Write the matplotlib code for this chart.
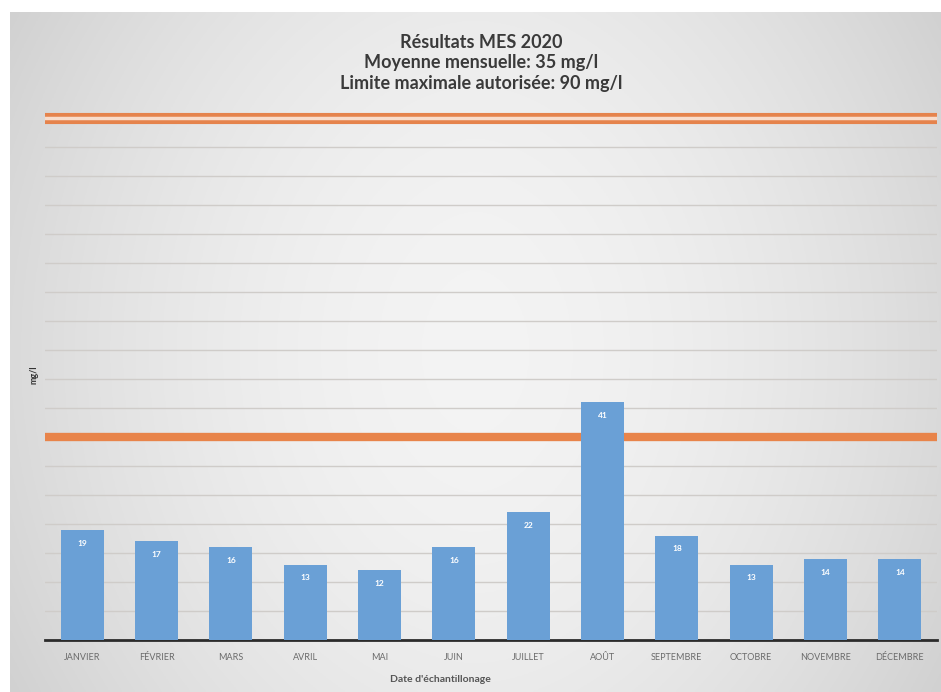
import numpy as np
import matplotlib
matplotlib.use("Agg")
import matplotlib.pyplot as plt

plt.rcParams['font.family'] = ['Lato', 'DejaVu Sans']

months = ['JANVIER', 'FÉVRIER', 'MARS', 'AVRIL', 'MAI', 'JUIN', 'JUILLET',
          'AOÛT', 'SEPTEMBRE', 'OCTOBRE', 'NOVEMBRE', 'DÉCEMBRE']
mes = [19, 17, 16, 13, 12, 16, 22, 41, 18, 13, 14, 14]
moyenne = 35
limite = 90

title_lines = ["Résultats MES 2020",
               "Moyenne mensuelle: 35 mg/l",
               "Limite maximale autorisée: 90 mg/l"]

W, H = 941, 692
fig = plt.figure(figsize=(W / 100, H / 100), dpi=100)
fig.patch.set_facecolor('white')

# grey gradient background of the chart panel (lighter in the middle)
bg = fig.add_axes([10 / W, 0, 1 - 10 / W, 1 - 12 / H], zorder=-10)
xx = np.linspace(-1, 1, 400)
yy = np.linspace(-1, 1, 300)
X, Y = np.meshgrid(xx, yy)
shade = 0.955 - 0.10 * np.abs(X) ** 1.8 - 0.035 * np.abs(Y) ** 2
bg.imshow(np.dstack([shade, shade, shade]), aspect='auto', extent=[0, 1, 0, 1])
bg.set_axis_off()

ax = fig.add_axes([45 / W, 52 / H, (937 - 45) / W, (640 - 106) / H])
ax.patch.set_alpha(0)

x = np.arange(len(months))
ax.bar(x, mes, width=0.58, color='#6aa0d6', zorder=3)
for xi, v in zip(x, mes):
    ax.text(xi, v - 1.7, str(v), ha='center', va='top', color='white',
            fontsize=6, fontweight='bold', zorder=4)

ax.axhline(moyenne, color='#e8844a', lw=6, zorder=2)
ax.axhline(limite, color='#e5834c', lw=8, zorder=2, xmin=-0.004)
ax.axhline(limite, color='#f8dccb', lw=2.5, zorder=2, xmin=-0.002)

ax.set_xlim(-0.5, len(months) - 0.5)
ax.set_ylim(0, 92)
ax.set_yticks(np.arange(5, 90, 5))
ax.set_yticklabels([])
ax.tick_params(axis='y', length=0)
ax.yaxis.grid(True, color='#cfccc9', lw=1.0, zorder=0)
ax.set_xticks(x)
ax.set_xticklabels(months, fontsize=6.5, color='#6b6b6b')
ax.tick_params(axis='x', length=0, pad=9)
for s in ['top', 'right', 'left']:
    ax.spines[s].set_visible(False)
ax.spines['bottom'].set_color('#2b2b2b')
ax.spines['bottom'].set_linewidth(2)

fig.text(34 / W, 1 - 375 / H, 'mg/l', rotation=90, ha='center', va='center',
         fontsize=6.5, fontweight='bold', color='#333333')
fig.text(440 / W, 1 - 679 / H, "Date d'échantillonage", ha='center', va='center',
         fontsize=7.5, fontweight='bold', color='#555555')

for i, line in enumerate(title_lines):
    fig.text(481 / W, 1 - (42 + 20.5 * i) / H, line, ha='center', va='center',
             fontsize=13, fontweight='bold', color='#3a3a3a')

fig.savefig('out.png', dpi=100)
